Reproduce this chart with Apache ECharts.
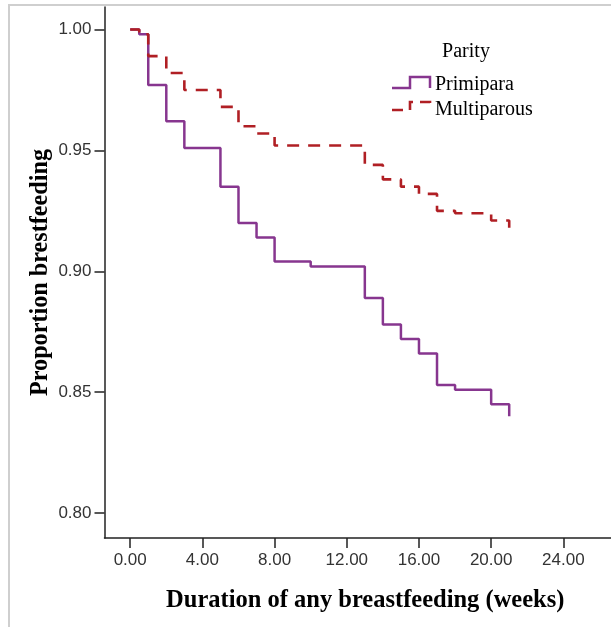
<!DOCTYPE html>
<html>
<head>
<meta charset="utf-8">
<script src="https://cdn.jsdelivr.net/npm/echarts@6/dist/echarts.min.js"></script>
<style>
  html, body { margin: 0; padding: 0; background: #fff; }
  #chart { width: 611px; height: 627px; }
</style>
</head>
<body>
<div id="chart"></div>
<script>
// Kaplan–Meier style step curves: proportion still breastfeeding by parity
const weeksPrimipara = [0, 0.5, 1, 2, 3, 5, 6, 7, 8, 10, 13, 14, 15, 16, 17, 18, 20, 21];
const survPrimipara  = [1.000, 0.998, 0.977, 0.962, 0.951, 0.935, 0.920, 0.914, 0.904, 0.902, 0.889, 0.878, 0.872, 0.866, 0.853, 0.851, 0.845, 0.840];

const weeksMultiparous = [0, 0.5, 1, 2, 3, 5, 6, 7, 8, 13, 14, 15, 16, 17, 18, 20, 21];
const survMultiparous  = [1.000, 0.998, 0.989, 0.982, 0.975, 0.968, 0.960, 0.957, 0.952, 0.944, 0.938, 0.935, 0.932, 0.925, 0.924, 0.921, 0.918];

const xTicks = [0, 4, 8, 12, 16, 20, 24];
const yTicks = [0.80, 0.85, 0.90, 0.95, 1.00];

const seriesNames = ['Primipara', 'Multiparous'];
const legendTitle = 'Parity';
const xTitle = 'Duration of any breastfeeding (weeks)';
const yTitle = 'Proportion brestfeeding';

const purple = '#87368F';
const red = '#B01F24';
const dash = [12, 9];

const pairs = (xs, ys) => xs.map((x, i) => [x, ys[i]]);

const chart = echarts.init(document.getElementById('chart'), null, { renderer: 'canvas' });

chart.setOption({
  animation: false,
  backgroundColor: '#fff',
  grid: { left: 104.5, right: 0, top: 7, bottom: 89, containLabel: false },
  xAxis: {
    type: 'value',
    min: -1.424,
    max: 26.64,
    name: xTitle,
    nameLocation: 'middle',
    nameGap: 50,
    nameTextStyle: {
      fontFamily: 'Liberation Serif', fontWeight: 'bold', fontSize: 24.5, color: '#000',
      padding: [0, 0, 0, 15]
    },
    axisLine: { show: true, onZero: false, lineStyle: { color: '#222', width: 1.5 } },
    axisTick: { show: true, length: 10, customValues: xTicks, lineStyle: { color: '#222', width: 1.5 } },
    axisLabel: {
      customValues: xTicks,
      margin: 14,
      fontFamily: 'Liberation Sans',
      fontSize: 17,
      color: '#333',
      formatter: v => v.toFixed(2)
    },
    splitLine: { show: false }
  },
  yAxis: {
    type: 'value',
    min: 0.7897,
    max: 1.0093,
    name: yTitle,
    nameLocation: 'middle',
    nameGap: 52,
    nameRotate: 90,
    nameMoveOverlap: false,
    nameTextStyle: { fontFamily: 'Liberation Serif', fontWeight: 'bold', fontSize: 24.2, color: '#000' },
    axisLine: { show: true, onZero: false, lineStyle: { color: '#222', width: 1.5 } },
    axisTick: { show: true, length: 10, customValues: yTicks, lineStyle: { color: '#222', width: 1.5 } },
    axisLabel: {
      customValues: yTicks,
      margin: 13,
      fontFamily: 'Liberation Sans',
      fontSize: 17,
      color: '#333',
      formatter: v => v.toFixed(2)
    },
    splitLine: { show: false }
  },
  series: [
    {
      name: seriesNames[0],
      type: 'line',
      step: 'end',
      showSymbol: false,
      symbol: 'none',
      data: pairs(weeksPrimipara, survPrimipara),
      lineStyle: { color: purple, width: 2.5 },
      z: 2
    },
    {
      name: seriesNames[1],
      type: 'line',
      step: 'end',
      showSymbol: false,
      symbol: 'none',
      data: pairs(weeksMultiparous, survMultiparous),
      lineStyle: { color: red, width: 2.6, type: dash },
      z: 3
    }
  ],
  graphic: [
    // light outer frame
    {
      type: 'rect',
      shape: { x: 9, y: 5, width: 800, height: 800 },
      style: { fill: 'none', stroke: '#cfcfcf', lineWidth: 2 },
      z: 0
    },
    // legend
    {
      type: 'text',
      x: 466, y: 52,
      style: { text: legendTitle, fontFamily: 'Liberation Serif', fontSize: 20, fill: '#000', align: 'center', verticalAlign: 'middle' }
    },
    {
      type: 'polyline',
      shape: { points: [[392, 88], [410, 88], [410, 77], [430, 77], [430, 88]] },
      style: { stroke: purple, lineWidth: 2.5, fill: 'none' }
    },
    {
      type: 'text',
      x: 435, y: 85,
      style: { text: seriesNames[0], fontFamily: 'Liberation Serif', fontSize: 20, fill: '#000', align: 'left', verticalAlign: 'middle' }
    },
    {
      type: 'polyline',
      shape: { points: [[392, 110], [410, 110], [410, 102], [430, 102], [430, 110]] },
      style: { stroke: red, lineWidth: 2.6, fill: 'none', lineDash: [11, 7] }
    },
    {
      type: 'text',
      x: 435, y: 110,
      style: { text: seriesNames[1], fontFamily: 'Liberation Serif', fontSize: 20, fill: '#000', align: 'left', verticalAlign: 'middle' }
    }
  ]
});
</script>
</body>
</html>
